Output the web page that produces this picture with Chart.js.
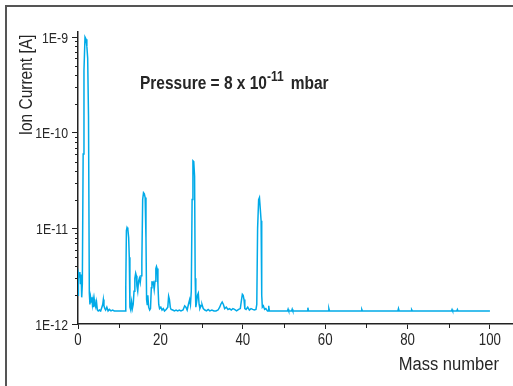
<!DOCTYPE html>
<html>
<head>
<meta charset="utf-8">
<script src="https://cdn.jsdelivr.net/npm/chart.js@4/dist/chart.umd.min.js"></script>
<style>
  html, body { margin: 0; padding: 0; background: #fff; }
  #wrap { width: 513px; height: 386px; position: relative; }
</style>
</head>
<body>
<div id="wrap"><canvas id="myChart" width="513" height="386"></canvas></div>
<script>
// mass number vs ion current (stored in pA, i.e. 1E-12 A)
var mass = [0, 0.1, 0.3, 0.45, 0.6, 0.75, 0.9, 1.05, 1.25, 1.45, 1.7, 1.95, 2.15, 2.35, 2.55, 2.75, 2.9, 3.05, 3.2, 3.35,
  3.5, 3.65, 3.8, 3.95, 4.1, 4.3, 4.5, 4.7, 4.9, 5.2, 5.5, 5.8, 6.0, 6.15, 6.3, 6.5, 6.7, 7.0, 7.3, 7.6,
  8.0, 8.4, 8.8, 9.5, 10.5, 11.5, 11.6, 11.75, 11.9, 12.1, 12.3, 12.45, 12.6, 12.8, 13.0, 13.2, 13.4, 13.6, 13.8, 14.0,
  14.15, 14.3, 14.5, 14.7, 14.9, 15.1, 15.3, 15.5, 15.7, 15.9, 16.1, 16.3, 16.5, 16.65, 16.8, 16.95, 17.15, 17.4, 17.6, 17.8,
  17.95, 18.1, 18.3, 18.5, 18.7, 18.9, 19.05, 19.2, 19.4, 19.6, 19.8, 20.1, 20.4, 20.7, 21.0, 21.4, 21.8, 22.0, 22.2, 22.4,
  22.6, 23.0, 23.4, 23.8, 24.2, 24.6, 25.0, 25.5, 25.9, 26.2, 26.5, 26.8, 27.1, 27.3, 27.5, 27.7, 27.9, 28.1, 28.3, 28.45,
  28.6, 28.8, 29.0, 29.2, 29.4, 29.6, 29.9, 30.1, 30.4, 30.8, 31.2, 31.6, 32.0, 32.5, 33.0, 33.5, 34.0, 34.4, 34.7, 35.0,
  35.3, 35.6, 36.0, 36.4, 36.8, 37.2, 37.6, 38.0, 38.5, 39.0, 39.4, 39.7, 39.9, 40.1, 40.3, 40.5, 40.8, 41.2, 41.6, 42.0,
  42.4, 42.8, 43.2, 43.4, 43.6, 43.85, 44.05, 44.25, 44.45, 44.6, 44.75, 45.0, 45.3, 45.6, 46.0, 46.15, 46.3, 46.45, 47, 48,
  49, 50, 50.85, 51.0, 51.15, 51.85, 52.0, 52.15, 53, 55, 55.65, 55.8, 55.95, 58, 60.75, 60.9, 61.05, 64, 66, 68.75,
  68.9, 69.05, 72, 77.65, 77.8, 77.95, 80.85, 81.0, 81.15, 85, 90.65, 90.8, 90.95, 91.95, 92.1, 92.25, 96, 100];
var currentPA = [2.0, 3.4, 3.1, 3.5, 2.6, 3.3, 1.9, 2.6, 60, 450, 1000, 950, 800, 600, 150, 2.1, 1.6, 1.9, 1.7, 1.9,
  1.6, 1.8, 1.5, 1.8, 1.6, 1.5, 1.7, 1.4, 1.37, 1.4, 1.37, 1.5, 1.6, 1.8, 1.55, 1.45, 1.4, 1.5, 1.37, 1.42,
  1.37, 1.4, 1.37, 1.37, 1.37, 1.37, 2.5, 9.5, 10.2, 9.8, 8.0, 5, 1.5, 1.4, 1.7, 1.45, 1.6, 2.2, 3.0, 3.4,
  3.2, 2.5, 2.2, 2.8, 3.0, 2.7, 3.2, 4.5, 20, 23.6, 23, 21, 8, 1.8, 1.6, 2.0, 1.5, 1.4, 1.45, 2.4,
  2.8, 2.6, 2.7, 2.3, 2.8, 3.8, 4.0, 3.8, 2.6, 1.6, 1.45, 1.5, 1.4, 1.45, 1.37, 1.42, 1.5, 1.95, 1.8, 1.5,
  1.42, 1.4, 1.37, 1.4, 1.37, 1.4, 1.37, 1.4, 1.55, 1.5, 1.4, 1.6, 1.8, 1.6, 2.2, 20, 51, 50, 35, 3,
  1.5, 1.7, 2.0, 2.1, 1.6, 1.45, 1.55, 1.6, 1.45, 1.4, 1.37, 1.42, 1.37, 1.4, 1.37, 1.37, 1.4, 1.5, 1.62, 1.7,
  1.6, 1.45, 1.5, 1.42, 1.45, 1.4, 1.45, 1.42, 1.37, 1.42, 1.45, 1.8, 2.05, 2.0, 1.8, 1.45, 1.42, 1.5, 1.4, 1.45,
  1.42, 1.4, 1.42, 1.6, 10, 20, 21, 16, 12, 2, 1.5, 1.55, 1.42, 1.45, 1.37, 1.37, 1.55, 1.37, 1.37, 1.37,
  1.37, 1.37, 1.37, 1.43, 1.37, 1.37, 1.43, 1.37, 1.37, 1.37, 1.37, 1.48, 1.37, 1.37, 1.37, 1.45, 1.37, 1.37, 1.37, 1.37,
  1.42, 1.37, 1.37, 1.37, 1.45, 1.37, 1.37, 1.41, 1.37, 1.37, 1.37, 1.42, 1.37, 1.37, 1.42, 1.37, 1.37, 1.37];

var xMajorTicks = [0, 20, 40, 60, 80, 100];
var xMinorTicks = [10, 30, 50, 70, 90];
var yMajorTicks = [1e-12, 1e-11, 1e-10, 1e-9];
var yTickLabels = ['1E-12', '1E-11', '1E-10', '1E-9'];

var FONT = "'Liberation Sans', Arial, sans-serif";
var NARROW = 0.82;   // horizontal squeeze to imitate the condensed face
var lineColor = 'rgb(0,170,232)';
var axisColor = '#222';
var textColor = '#262626';

var points = mass.map(function (m, i) { return { x: m, y: currentPA[i] * 1e-12 }; });

// draws text squeezed horizontally, returns drawn width
function narrowText(c, text, x, y, font, align, sx) {
  c.save();
  c.font = font;
  c.textBaseline = 'alphabetic';
  c.textAlign = 'left';
  var w = c.measureText(text).width * sx;
  var left = align === 'right' ? x - w : align === 'center' ? x - w / 2 : x;
  c.translate(left, y);
  c.scale(sx, 1);
  c.fillText(text, 0, 0);
  c.restore();
  return w;
}

// frame, minor ticks, tick labels and the free texts
var extras = {
  id: 'extras',
  beforeDraw: function (chart) {
    var c = chart.ctx;
    c.save();
    c.strokeStyle = '#555';
    c.lineWidth = 2;
    c.beginPath();
    c.moveTo(6, 386); c.lineTo(6, 6); c.lineTo(513, 6);
    c.stroke();
    c.restore();
  },
  afterDraw: function (chart) {
    var c = chart.ctx;
    var xs = chart.scales.x, ys = chart.scales.y;
    var area = chart.chartArea;
    c.save();
    c.strokeStyle = axisColor;
    c.lineWidth = 1;
    c.beginPath();
    xMinorTicks.forEach(function (v) {
      var px = Math.round(xs.getPixelForValue(v)) + 0.5;
      c.moveTo(px, area.bottom); c.lineTo(px, area.bottom + 4);
    });
    for (var d = 0; d < yMajorTicks.length - 1; d++) {
      for (var k = 2; k <= 9; k++) {
        var py = Math.round(ys.getPixelForValue(yMajorTicks[d] * k)) + 0.5;
        c.moveTo(area.left, py); c.lineTo(area.left - 3, py);
      }
    }
    c.stroke();

    c.fillStyle = textColor;
    // tick labels
    xMajorTicks.forEach(function (v) {
      narrowText(c, String(v), xs.getPixelForValue(v), area.bottom + 21, '17px ' + FONT, 'center', 0.78);
    });
    yMajorTicks.forEach(function (v, i) {
      narrowText(c, yTickLabels[i], area.left - 10, ys.getPixelForValue(v) + 5.5, '15px ' + FONT, 'right', NARROW);
    });
    // y title
    c.save();
    c.translate(31.5, 0);
    c.rotate(-Math.PI / 2);
    narrowText(c, 'Ion Current [A]', -85, 0, '18px ' + FONT, 'center', 0.86);
    c.restore();
    // x title
    narrowText(c, 'Mass number', 499, 370, '18px ' + FONT, 'right', 0.92);
    // annotation
    var x0 = 140, base = 89;
    var w1 = narrowText(c, 'Pressure = 8 x 10', x0, base, 'bold 18px ' + FONT, 'left', 0.86);
    var w2 = narrowText(c, '-11', x0 + w1, base - 8, 'bold 14px ' + FONT, 'left', 0.86);
    narrowText(c, 'mbar', x0 + w1 + w2 + 7, base, 'bold 18px ' + FONT, 'left', 0.86);
    c.restore();
  }
};

var ctx = document.getElementById('myChart').getContext('2d');
var chart = new Chart(ctx, {
  type: 'line',
  data: {
    datasets: [{
      label: 'Ion current',
      data: points,
      borderColor: lineColor,
      backgroundColor: lineColor,
      borderWidth: 1.5,
      pointRadius: 0,
      tension: 0,
      fill: false
    }]
  },
  options: {
    responsive: false,
    animation: false,
    layout: { padding: { top: 32, left: 0, right: 0, bottom: 0 } },
    plugins: { legend: { display: false }, tooltip: { enabled: false } },
    scales: {
      x: {
        type: 'linear',
        min: 0,
        max: 105.6,
        border: { color: axisColor, width: 1.5 },
        grid: { drawOnChartArea: false, drawTicks: true, tickLength: 5, tickColor: axisColor, tickWidth: 1 },
        afterBuildTicks: function (s) { s.ticks = xMajorTicks.map(function (v) { return { value: v }; }); },
        afterFit: function (s) { s.height = 62; },
        ticks: { display: false, autoSkip: false, maxRotation: 0 }
      },
      y: {
        type: 'logarithmic',
        min: 1e-12,
        max: 1.13e-9,
        border: { color: axisColor, width: 1.5 },
        grid: { drawOnChartArea: false, drawTicks: true, tickLength: 6, tickColor: axisColor, tickWidth: 1 },
        afterBuildTicks: function (s) { s.ticks = yMajorTicks.map(function (v) { return { value: v }; }); },
        afterFit: function (s) { s.width = 78; },
        ticks: { display: false, autoSkip: false }
      }
    }
  },
  plugins: [extras]
});
</script>
</body>
</html>
